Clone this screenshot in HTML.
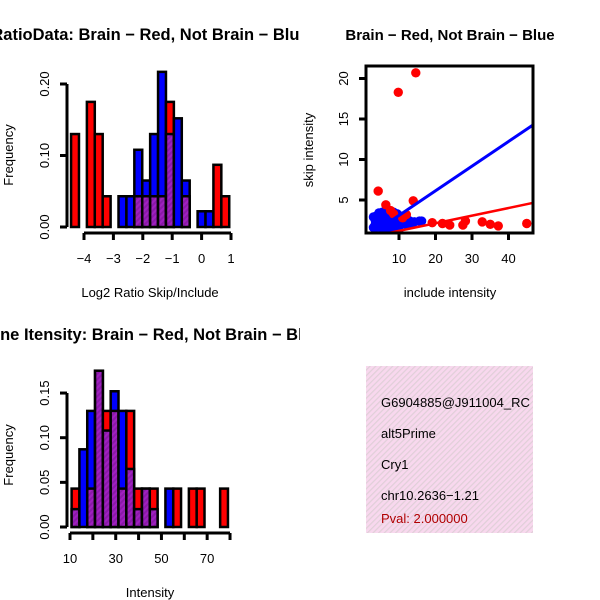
<!DOCTYPE html>
<html><head><meta charset="utf-8"><style>
html,body{margin:0;padding:0;background:#fff}
svg{display:block;font-family:"Liberation Sans",Arial,sans-serif}
</style></head><body>
<svg id="c" width="600" height="600" viewBox="0 0 600 600">
<defs>
<pattern id="hatch" width="4" height="4" patternUnits="userSpaceOnUse" patternTransform="rotate(45)">
<rect width="4" height="4" fill="#a020c0"/><rect width="2" height="4" fill="#8a1aa8"/></pattern>
<pattern id="pink" width="4" height="4" patternUnits="userSpaceOnUse" patternTransform="rotate(45)">
<rect width="4" height="4" fill="#f8d8ee"/><rect width="1.2" height="4" fill="#e0cfd8"/></pattern>
<clipPath id="p1"><rect x="0" y="0" width="300" height="300"/></clipPath>
<clipPath id="p2"><rect x="300" y="0" width="300" height="300"/></clipPath>
<clipPath id="p3"><rect x="0" y="300" width="300" height="300"/></clipPath>
<clipPath id="sc"><rect x="366" y="66" width="167" height="167"/></clipPath>
<clipPath id="ib"><rect x="366" y="366" width="167" height="167"/></clipPath>
</defs>
<g id="g1" clip-path="url(#p1)"></g>
<g id="g2" clip-path="url(#p2)"></g>
<g id="g3" clip-path="url(#p3)"></g>
<g>
<rect x="366" y="366" width="167" height="167" fill="url(#pink)"/>
<g clip-path="url(#ib)" font-size="13">
<text x="381" y="407">G6904885@J911004_RC</text>
<text x="381" y="438">alt5Prime</text>
<text x="381" y="469">Cry1</text>
<text x="381" y="500">chr10.2636−1.21</text>
<text x="381" y="523" fill="#b00000">Pval: 2.000000</text>
</g></g>
</svg>
<script>
// Panel 1: ratio histogram
const ratioBreakStart = -4.44, ratioBinWidth = 0.269;
const ratioRed  = [0.13,0,0.175,0.13,0.043,0,0,0,0.043,0.043,0.043,0.043,0.175,0,0.043,0,0,0,0.087,0.043];
const ratioBlue = [0,0,0,0,0,0,0.043,0.043,0.108,0.065,0.13,0.217,0.13,0.152,0.065,0,0.022,0.022,0,0];
const ratioXTicks = [-4,-3,-2,-1,0,1];
const ratioYTicks = [0,0.10,0.20];
const ratioYTickLabels = ["0.00","0.10","0.20"];
// Panel 2: scatter
const redInclude = [14.6,9.8,4.3,6.4,13.9,12,7.7,19.1,21.9,23.9,27.5,28.2,32.8,35,37.2,45,8.5,11];
const redSkip    = [20.7,18.3,6.1,4.4,4.9,3.2,3.7,2.2,2.1,1.9,1.9,2.4,2.3,2.0,1.8,2.1,3.3,2.8];
const blueInclude= [3,3.5,4,4.5,5,5.5,6,6.5,7,7.5,8,8.5,9,9.5,10,10.5,11,11.5,12,12.5,13,4,5,6,7,8,9,10,11,3.5,4.5,5.5,6.5,7.5,8.5,9.5,15.6,6,8,10,12,14.2,16.2,3,4,5,6,7,8,9,10,11,12,13];
const blueSkip   = [2.9,2.5,3.1,2.2,2.8,3.3,2.4,2.9,3.2,2.5,2.7,3.0,2.3,2.6,3.1,2.4,2.8,2.2,2.6,2.3,2.4,1.8,1.6,1.9,2.0,1.7,2.0,1.8,2.1,2.0,3.4,3.5,3.4,3.3,3.5,3.3,2.4,1.2,1.5,1.4,2.0,2.3,2.4,1.6,2.6,2.2,2.7,3.0,2.0,2.6,2.2,2.1,2.9,2.0];
const blueFit = [0.06,0.304];
const redFit = [0.25,0.094];
const scXTicks = [10,20,30,40];
const scYTicks = [5,10,15,20];
// Panel 3: intensity histogram
const intBreakStart = 10.7, intBinWidth = 3.42;
const intRed  = [0.043,0,0.043,0.175,0.13,0.13,0.043,0.13,0.043,0.043,0.043,0,0,0.043,0,0.043,0.043,0,0,0.043];
const intBlue = [0.02,0.087,0.13,0.175,0.108,0.152,0.13,0.065,0.02,0.043,0.02,0,0.043,0,0,0,0,0,0,0];
const intXTicks = [10,20,30,40,50,60,70,80];
const intXLabels = ["10","","30","","50","","70",""];
const intYTicks = [0,0.05,0.10,0.15];
const intYTickLabels = ["0.00","0.05","0.10","0.15"];

const NS="http://www.w3.org/2000/svg";
function mk(parent,tag,attrs,txt){const e=document.createElementNS(NS,tag);for(const k in attrs)e.setAttribute(k,attrs[k]);if(txt!==undefined)e.textContent=txt;parent.appendChild(e);return e;}

function hist(g,o){
  const X=v=>o.x0+(v-o.xv0)*o.xs, Y=v=>o.y0-v*o.ys;
  mk(g,'text',{x:150,y:o.titleY,'text-anchor':'middle','font-size':16.5,'font-weight':'bold'},o.title);
  o.red.forEach((r,i)=>{
    const b=o.blue[i]; const x1=X(o.bs+i*o.bw), x2=X(o.bs+(i+1)*o.bw);
    const mn=Math.min(r,b), mx=Math.max(r,b);
    if(mx<=0)return;
    const col=r>=b?'#ff0000':'#0000ff';
    const bar=mk(g,'rect',{x:x1,y:Y(mx),width:x2-x1,height:Y(0)-Y(mx),fill:col,stroke:'#000','stroke-width':2.5});
    
    
    if(mn>0){
      const ov=mk(g,'rect',{x:x1,y:Y(mn),width:x2-x1,height:Y(0)-Y(mn),fill:'url(#hatch)',stroke:'#000','stroke-width':2.5});
      
      
    }
  });
  const yt=o.yticks; const ax=o.yAxisX;
  mk(g,'line',{x1:ax,x2:ax,y1:Y(yt[0]),y2:Y(yt[yt.length-1]),stroke:'#000','stroke-width':3});
  yt.forEach((t,i)=>{mk(g,'line',{x1:ax-7,x2:ax,y1:Y(t),y2:Y(t),stroke:'#000','stroke-width':3});
    const tx=mk(g,'text',{x:ax-22,y:Y(t)+4,'text-anchor':'middle','font-size':13,transform:`rotate(-90 ${ax-22} ${Y(t)})`},o.ylabels[i]);
    });
  mk(g,'text',{x:13,y:o.y0-72,'text-anchor':'middle','font-size':13,transform:`rotate(-90 13 ${o.y0-72})`},'Frequency');
  const xt=o.xticks, ay=o.xAxisY;
  mk(g,'line',{x1:X(xt[0]),x2:X(xt[xt.length-1]),y1:ay,y2:ay,stroke:'#000','stroke-width':3});
  xt.forEach((t,i)=>{mk(g,'line',{x1:X(t),x2:X(t),y1:ay,y2:ay+7,stroke:'#000','stroke-width':3});
    const tx=mk(g,'text',{x:X(t),y:ay+30,'text-anchor':'middle','font-size':13},o.xlabels[i]);
    });
  mk(g,'text',{x:150,y:ay+64,'text-anchor':'middle','font-size':13},o.xtitle);
}
hist(document.getElementById('g1'),{x0:201.6,xv0:0,xs:29.4,y0:227,ys:715,bs:ratioBreakStart,bw:ratioBinWidth,red:ratioRed,blue:ratioBlue,
  yticks:ratioYTicks,ylabels:ratioYTickLabels,xticks:ratioXTicks,xlabels:ratioXTicks.map(v=>v<0?'−'+(-v):''+v),yAxisX:67,xAxisY:233,
  title:'RatioData: Brain − Red, Not Brain − Blue',titleY:40,xtitle:'Log2 Ratio Skip/Include'});
hist(document.getElementById('g3'),{x0:70,xv0:10,xs:2.286,y0:527,ys:893,bs:intBreakStart,bw:intBinWidth,red:intRed,blue:intBlue,
  yticks:intYTicks,ylabels:intYTickLabels,xticks:intXTicks,xlabels:intXLabels,yAxisX:67,xAxisY:533,
  title:'Gene Itensity: Brain − Red, Not Brain − Blue',titleY:340,xtitle:'Intensity'});

(function(){
  const g=document.getElementById('g2');
  const X=v=>362.5+v*3.65, Y=v=>240.5-v*8.1;
  mk(g,'text',{x:450,y:40,'text-anchor':'middle','font-size':15,'font-weight':'bold'},'Brain − Red, Not Brain − Blue');
  const pg=mk(g,'g',{'clip-path':'url(#sc)'});
  blueInclude.forEach((v,i)=>{const c=mk(pg,'circle',{cx:X(v),cy:Y(blueSkip[i]),r:4.7,fill:'#0000ff'});
    
    });
  redInclude.forEach((v,i)=>{const c=mk(pg,'circle',{cx:X(v),cy:Y(redSkip[i]),r:4.7,fill:'#ff0000'});
    
    });
  const bl=mk(pg,'line',{x1:X(0),y1:Y(blueFit[0]),x2:X(50),y2:Y(blueFit[0]+blueFit[1]*50),stroke:'#0000ff','stroke-width':3});
  
  const rl=mk(pg,'line',{x1:X(0),y1:Y(redFit[0]),x2:X(50),y2:Y(redFit[0]+redFit[1]*50),stroke:'#ff0000','stroke-width':2.5});
  
  mk(g,'rect',{x:366,y:66,width:167,height:167,fill:'none',stroke:'#000','stroke-width':3});
  scXTicks.forEach(t=>{mk(g,'line',{x1:X(t),x2:X(t),y1:233,y2:240,stroke:'#000','stroke-width':3});
    mk(g,'text',{x:X(t),y:263,'text-anchor':'middle','font-size':13},''+t);});
  scYTicks.forEach(t=>{mk(g,'line',{x1:359,x2:366,y1:Y(t),y2:Y(t),stroke:'#000','stroke-width':3});
    mk(g,'text',{x:348,y:Y(t),'text-anchor':'middle','font-size':13,transform:`rotate(-90 348 ${Y(t)})`},''+t);});
  mk(g,'text',{x:450,y:297,'text-anchor':'middle','font-size':13},'include intensity');
  mk(g,'text',{x:313,y:150,'text-anchor':'middle','font-size':13,transform:'rotate(-90 313 150)'},'skip intensity');
})();
</script>
</body></html>
